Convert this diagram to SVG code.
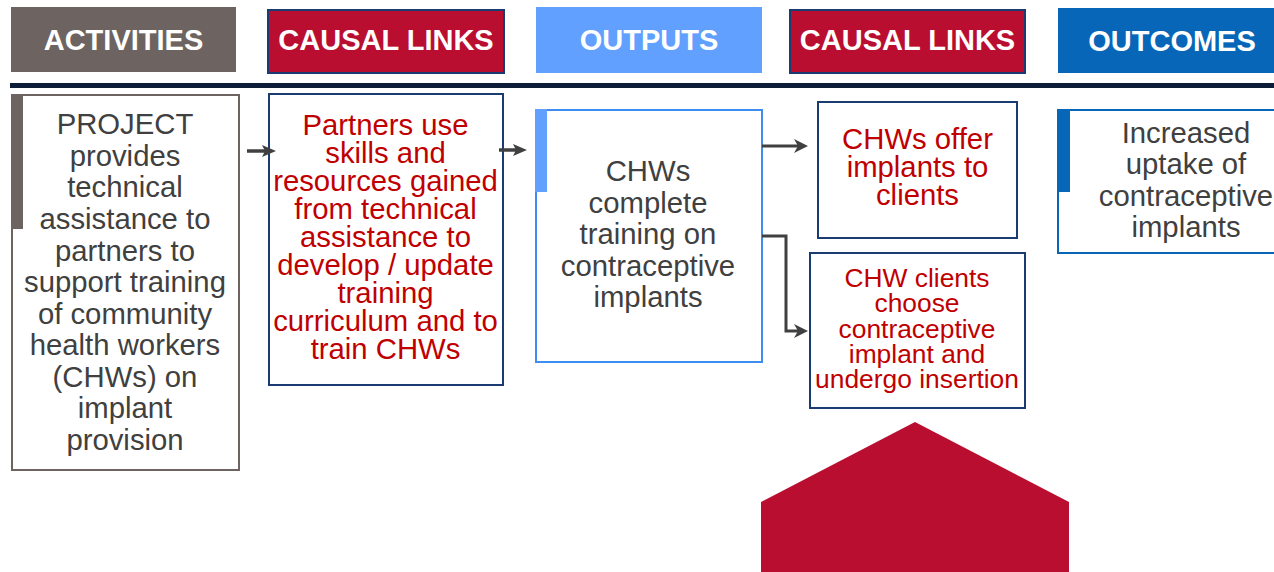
<svg xmlns="http://www.w3.org/2000/svg" width="1274" height="572" viewBox="0 0 1274 572">
  <style>
    .hdr { font-family: "Liberation Sans", Arial, sans-serif; font-weight: bold; font-size: 29px; fill: #ffffff; text-anchor: middle; }
    .body { font-family: "Liberation Sans", Arial, sans-serif; font-size: 29.3px; text-anchor: middle; }
    .gray { fill: #404040; }
    .red { fill: #c00000; }
    .navybox { fill: #ffffff; stroke: #1b3b73; stroke-width: 2; }
    .conn { fill: none; stroke: #404040; }
  </style>
  <defs>
    <marker id="headL" markerUnits="userSpaceOnUse" markerWidth="14" markerHeight="14" refX="4" refY="7" orient="auto">
      <path d="M0,0 L14,7 L0,14 L4,7 z" fill="#404040"/>
    </marker>
    <marker id="headS" markerUnits="userSpaceOnUse" markerWidth="14" markerHeight="12" refX="3" refY="6" orient="auto">
      <path d="M0,0 L14,6 L0,12 L3,6 z" fill="#404040"/>
    </marker>
  </defs>

  <rect width="1274" height="572" fill="#ffffff"/>

  <!-- column headers -->
  <g id="hdr-activities">
    <rect x="11" y="7" width="225" height="65" fill="#6d6461"/>
    <text class="hdr" x="123.5" y="50">ACTIVITIES</text>
  </g>
  <g id="hdr-causal-1">
    <rect x="268" y="10" width="236" height="63" fill="#ba0e30" stroke="#1b3b73" stroke-width="2"/>
    <text class="hdr" x="386" y="50">CAUSAL LINKS</text>
  </g>
  <g id="hdr-outputs">
    <rect x="536" y="7" width="226" height="66" fill="#61a0fe"/>
    <text class="hdr" x="649" y="50">OUTPUTS</text>
  </g>
  <g id="hdr-causal-2">
    <rect x="790" y="10" width="235" height="63" fill="#ba0e30" stroke="#1b3b73" stroke-width="2"/>
    <text class="hdr" x="907.5" y="50">CAUSAL LINKS</text>
  </g>
  <g id="hdr-outcomes">
    <rect x="1058" y="8" width="230" height="65" fill="#0866b8"/>
    <text class="hdr" x="1172" y="51">OUTCOMES</text>
  </g>

  <!-- divider under headers -->
  <rect x="10" y="83" width="1264" height="5" fill="#0d1c38"/>

  <!-- activity -->
  <g id="activity">
    <rect x="12" y="95" width="227" height="375" fill="#ffffff" stroke="#6d6461" stroke-width="2"/>
    <rect x="11" y="94" width="12" height="135" fill="#6d6461"/>
    <text class="body gray" x="125" y="134.3"><tspan x="125">PROJECT</tspan><tspan x="125" dy="31.57">provides</tspan><tspan x="125" dy="31.57">technical</tspan><tspan x="125" dy="31.57">assistance to</tspan><tspan x="125" dy="31.57">partners to</tspan><tspan x="125" dy="31.57">support training</tspan><tspan x="125" dy="31.57">of community</tspan><tspan x="125" dy="31.57">health workers</tspan><tspan x="125" dy="31.57">(CHWs) on</tspan><tspan x="125" dy="31.57">implant</tspan><tspan x="125" dy="31.57">provision</tspan></text>
  </g>

  <!-- causal link: partners -->
  <g id="causal-partners">
    <rect class="navybox" x="269" y="94" width="234" height="291"/>
    <text class="body red" x="385.5" y="135"><tspan x="385.5">Partners use</tspan><tspan x="385.5" dy="28">skills and</tspan><tspan x="385.5" dy="28">resources gained</tspan><tspan x="385.5" dy="28">from technical</tspan><tspan x="385.5" dy="28">assistance to</tspan><tspan x="385.5" dy="28">develop / update</tspan><tspan x="385.5" dy="28">training</tspan><tspan x="385.5" dy="28">curriculum and to</tspan><tspan x="385.5" dy="28">train CHWs</tspan></text>
  </g>

  <!-- output -->
  <g id="output-training">
    <rect x="536" y="110" width="226" height="252" fill="#ffffff" stroke="#3d8ef0" stroke-width="2"/>
    <rect x="535" y="109" width="12" height="83" fill="#61a0fe"/>
    <text class="body gray" x="648" y="181"><tspan x="648">CHWs</tspan><tspan x="648" dy="31.5">complete</tspan><tspan x="648" dy="31.5">training on</tspan><tspan x="648" dy="31.5">contraceptive</tspan><tspan x="648" dy="31.5">implants</tspan></text>
  </g>

  <!-- causal link: offer -->
  <g id="causal-offer">
    <rect class="navybox" x="818" y="102" width="199" height="136"/>
    <text class="body red" x="917.5" y="149"><tspan x="917.5">CHWs offer</tspan><tspan x="917.5" dy="28">implants to</tspan><tspan x="917.5" dy="28">clients</tspan></text>
  </g>

  <!-- causal link: choose -->
  <g id="causal-choose">
    <rect class="navybox" x="810" y="253" width="215" height="155"/>
    <text class="body red" x="917" y="287" style="font-size:26.4px"><tspan x="917">CHW clients</tspan><tspan x="917" dy="25.3">choose</tspan><tspan x="917" dy="25.3">contraceptive</tspan><tspan x="917" dy="25.3">implant and</tspan><tspan x="917" dy="25.3">undergo insertion</tspan></text>
  </g>

  <!-- outcome -->
  <g id="outcome-uptake">
    <rect x="1058" y="110" width="262" height="143" fill="#ffffff" stroke="#0866b8" stroke-width="2"/>
    <rect x="1057" y="109" width="13" height="83" fill="#0866b8"/>
    <text class="body gray" x="1186" y="143"><tspan x="1186">Increased</tspan><tspan x="1186" dy="31.4">uptake of</tspan><tspan x="1186" dy="31.4">contraceptive</tspan><tspan x="1186" dy="31.4">implants</tspan></text>
  </g>

  <!-- large upward pentagon arrow -->
  <g id="up-arrow">
    <polygon points="915,422 1069,502 1069,572 761,572 761,502" fill="#ba0e30"/>
  </g>

  <!-- connectors -->
  <g id="connectors">
    <line class="conn" x1="247" y1="151" x2="265" y2="151" stroke-width="3.5" marker-end="url(#headS)"/>
    <line class="conn" x1="499" y1="150" x2="516" y2="150" stroke-width="3.5" marker-end="url(#headS)"/>
    <line class="conn" x1="762" y1="146" x2="798" y2="146" stroke-width="3" marker-end="url(#headL)"/>
    <path class="conn" d="M762,236 H786 V331 H798" stroke-width="3" marker-end="url(#headL)"/>
  </g>
</svg>
